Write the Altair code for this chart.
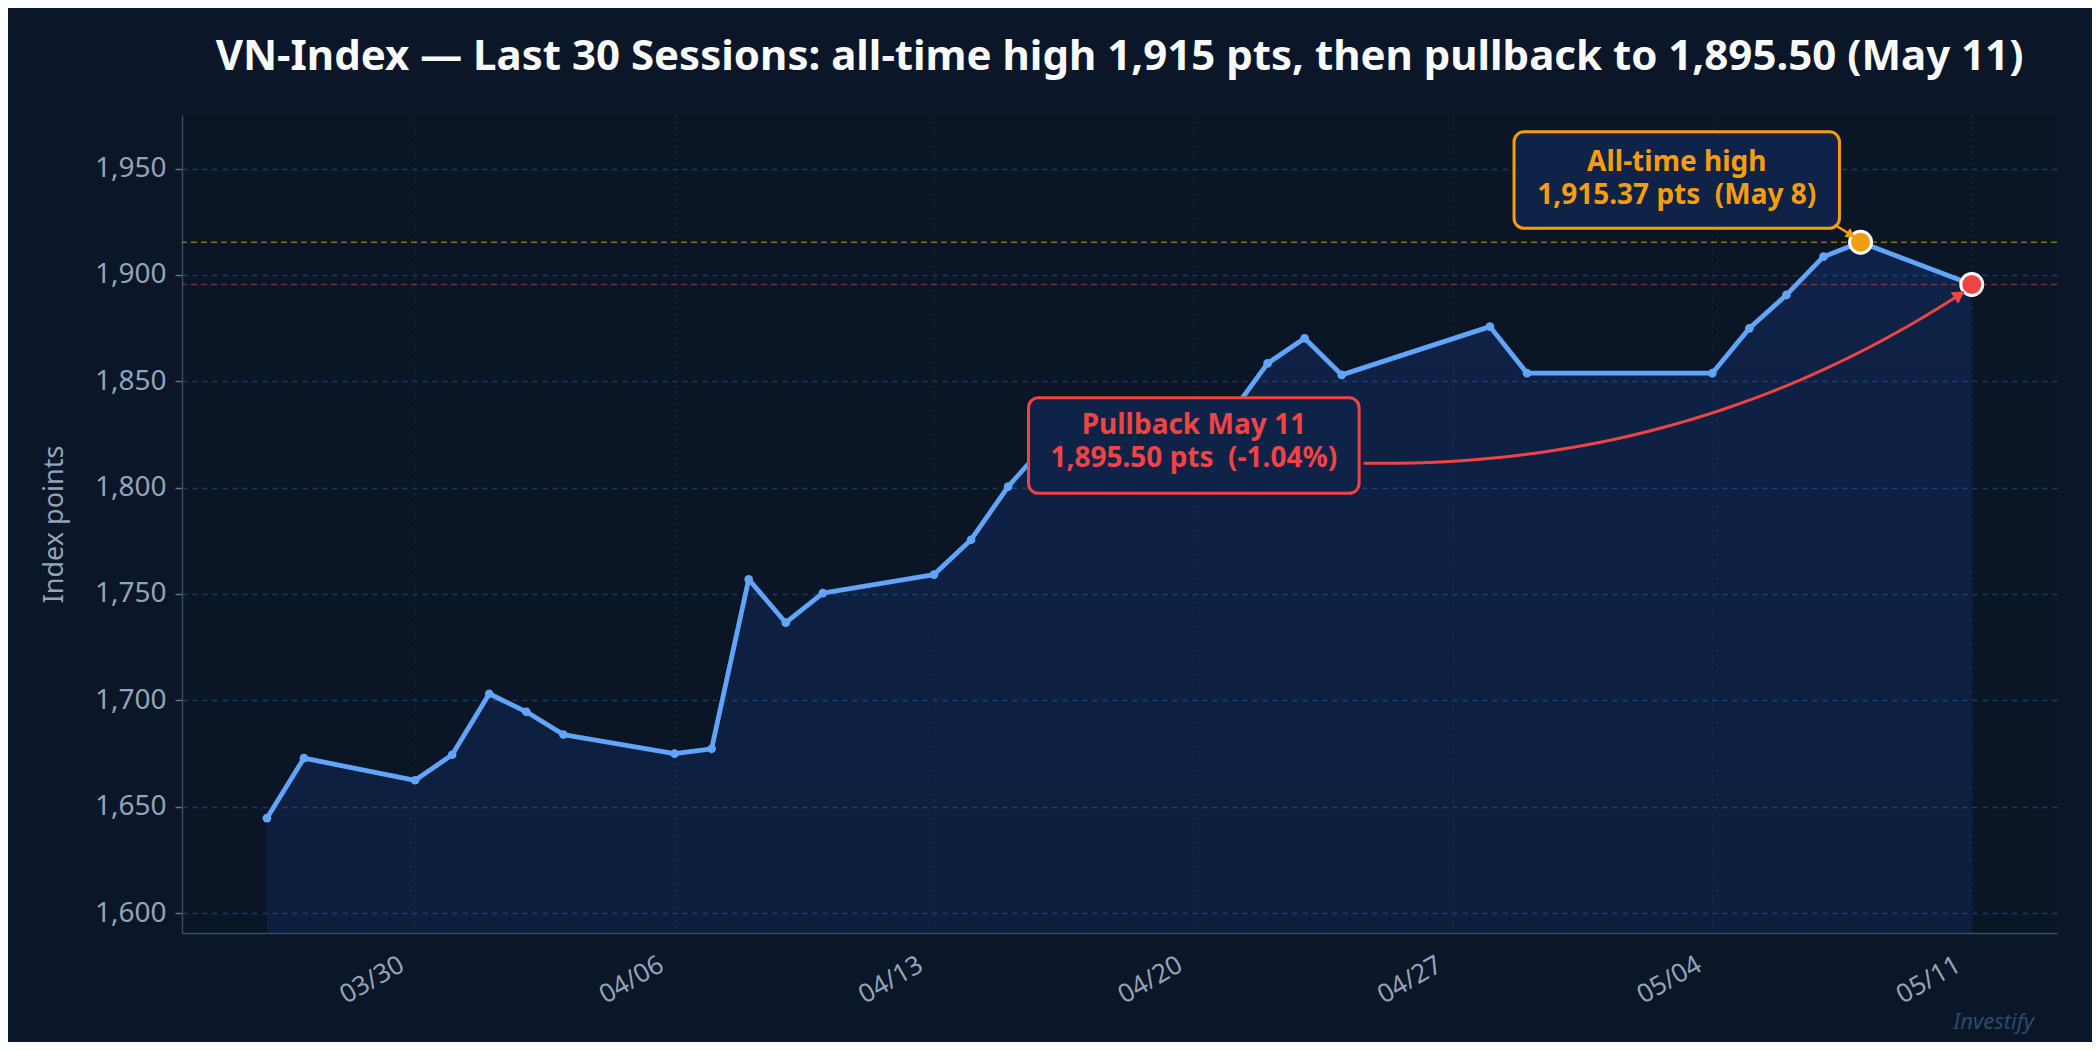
import math

import altair as alt
import pandas as pd

# VN-Index closes, last 30 sessions
dates = [
    "2026-03-26", "2026-03-27", "2026-03-30", "2026-03-31", "2026-04-01",
    "2026-04-02", "2026-04-03", "2026-04-06", "2026-04-07", "2026-04-08",
    "2026-04-09", "2026-04-10", "2026-04-13", "2026-04-14", "2026-04-15",
    "2026-04-16", "2026-04-17", "2026-04-20", "2026-04-21", "2026-04-22",
    "2026-04-23", "2026-04-24", "2026-04-28", "2026-04-29", "2026-05-04",
    "2026-05-05", "2026-05-06", "2026-05-07", "2026-05-08", "2026-05-11",
]
values = [
    1644.6, 1672.8, 1662.4, 1674.4, 1703.1,
    1694.6, 1683.9, 1674.9, 1677.2, 1756.9,
    1736.5, 1750.4, 1759.1, 1775.5, 1800.5,
    1820.0, 1812.0, 1826.0, 1834.5, 1858.4,
    1870.2, 1853.0, 1875.7, 1853.8, 1853.8,
    1874.9, 1890.6, 1908.6, 1915.37, 1895.50,
]
tick_dates = ["2026-03-30", "2026-04-06", "2026-04-13", "2026-04-20",
              "2026-04-27", "2026-05-04", "2026-05-11"]
y_ticks = [1600, 1650, 1700, 1750, 1800, 1850, 1900, 1950]

ath_date, ath_value = "2026-05-08", 1915.37
last_date, last_value = "2026-05-11", 1895.50

BLUE = "#60a5fa"
ORANGE = "#f59e0b"
RED = "#ef4444"
BG = "#0b1628"
BOX_FILL = "#0f2348"
MUTED = "#94a3b8"
FONT = "Noto Sans"

W, H = 1875, 818
Y_MIN, Y_MAX = 1590.6, 1975.2
BASE = pd.Timestamp("2026-03-30", tz="UTC")
X_LO, X_HI = -6.29, 44.3   # days from 03/30


def at(days):
    return (BASE + pd.Timedelta(days=days)).strftime("%Y-%m-%dT%H:%M:%SZ")


def ms(s):
    t = pd.Timestamp(s)
    if t.tzinfo is None:
        t = t.tz_localize("UTC")
    return int(t.timestamp() * 1000)


px_day = W / (X_HI - X_LO)
px_pt = H / (Y_MAX - Y_MIN)

X = alt.X(
    "date:T",
    scale=alt.Scale(type="utc", domain=[ms(at(X_LO)), ms(at(X_HI))]),
    axis=alt.Axis(
        values=[ms(d) for d in tick_dates], format="%m/%d", title=None,
        labelAngle=-30, labelAlign="right", labelBaseline="top",
        labelFontSize=26, labelColor=MUTED, labelPadding=10, labelOffset=-20,
        labelFont=FONT,
        tickColor="#0d1420", tickSize=8, tickWidth=1.5,
        domainColor="#3a4a66", domainWidth=1.5,
        grid=True, gridColor="#17253c", gridDash=[2, 4], gridWidth=1,
    ),
)
Y = alt.Y(
    "value:Q",
    scale=alt.Scale(domain=[Y_MIN, Y_MAX], nice=False, zero=False),
    axis=alt.Axis(
        values=y_ticks, format=",.0f", title="Index points",
        labelFontSize=28, labelColor=MUTED, labelPadding=9, labelFont=FONT,
        tickColor="#64748b", tickSize=7, tickWidth=1.5,
        domainColor="#3a4a66", domainWidth=1.5,
        grid=True, gridColor="#1e3a5f", gridDash=[5, 5], gridWidth=1.3,
        titleFont=FONT, titleFontSize=27, titleFontWeight="normal",
        titleColor=MUTED, titleAngle=270, titleAlign="center",
        titleBaseline="middle", titleX=-128, titleY=H / 2,
    ),
)

df = pd.DataFrame({"date": dates, "value": values})

area = alt.Chart(df).mark_area(
    color=alt.Gradient(
        gradient="linear", x1=0, y1=0, x2=0, y2=1,
        stops=[alt.GradientStop(color="rgba(37,99,235,0.17)", offset=0),
               alt.GradientStop(color="rgba(37,99,235,0.12)", offset=1)],
    )
).encode(x=X, y=Y, y2=alt.datum(Y_MIN))

ref_ath = alt.Chart(pd.DataFrame({"value": [ath_value]})).mark_rule(
    color=ORANGE, opacity=0.6, strokeDash=[6, 4], strokeWidth=1.5
).encode(y=Y)
ref_last = alt.Chart(pd.DataFrame({"value": [last_value]})).mark_rule(
    color=RED, opacity=0.5, strokeDash=[6, 4], strokeWidth=1.5
).encode(y=Y)

line = alt.Chart(df).mark_line(
    color=BLUE, strokeWidth=4.8, strokeCap="round", strokeJoin="round"
).encode(x=X, y=Y)
dots = alt.Chart(df).mark_circle(color=BLUE, size=75, opacity=1).encode(x=X, y=Y)

ath_pt = alt.Chart(pd.DataFrame({"date": [ath_date], "value": [ath_value]})).mark_circle(
    fill=ORANGE, stroke="white", strokeWidth=3, size=480, opacity=1
).encode(x=X, y=Y)
last_pt = alt.Chart(pd.DataFrame({"date": [last_date], "value": [last_value]})).mark_circle(
    fill=RED, stroke="white", strokeWidth=3, size=480, opacity=1
).encode(x=X, y=Y)

# annotation boxes (day offsets from 03/30, index points)
boxes = pd.DataFrame({
    "date": [at(29.65), at(16.55)],
    "date2": [at(38.43), at(25.47)],
    "value": [1967.3, 1842.3],
    "value2": [1921.9, 1797.3],
    "kind": ["ath", "pull"],
})
box_layer = alt.Chart(boxes).mark_rect(
    cornerRadius=10, strokeWidth=3, fill=BOX_FILL, opacity=1
).encode(
    x=X, x2="date2:T", y=Y, y2="value2:Q",
    stroke=alt.Color("kind:N", scale=alt.Scale(domain=["ath", "pull"], range=[ORANGE, RED]),
                     legend=None),
)

labels = pd.DataFrame({
    "date": [at(34.04), at(21.01)],
    "value": [1949.0, 1825.1],
    "text": ["All-time high\n1,915.37 pts\u00a0 (May 8)",
             "Pullback May 11\n1,895.50 pts\u00a0 (-1.04%)"],
    "kind": ["ath", "pull"],
})
label_layer = alt.Chart(labels).mark_text(
    font=FONT, fontSize=28, fontWeight="bold", lineBreak="\n", lineHeight=33,
    align="center", baseline="alphabetic",
).encode(
    x=X, y=Y, text="text:N",
    color=alt.Color("kind:N", scale=alt.Scale(domain=["ath", "pull"], range=[ORANGE, RED]),
                    legend=None),
)

# curved arrow from the pullback box to the last close
p0, p1, p2 = (25.59, 1811.5), (34.51, 1808.9), (41.78, 1892.0)
steps = 40
ts = [k / steps for k in range(steps + 1)]
curve = pd.DataFrame({
    "i": list(range(steps + 1)),
    "date": [at((1 - t) ** 2 * p0[0] + 2 * (1 - t) * t * p1[0] + t ** 2 * p2[0]) for t in ts],
    "value": [(1 - t) ** 2 * p0[1] + 2 * (1 - t) * t * p1[1] + t ** 2 * p2[1] for t in ts],
})
curve_layer = alt.Chart(curve).mark_line(color=RED, strokeWidth=3).encode(
    x=X, y=Y, order="i:Q"
)


def head(tip, tail, color, size):
    dx = (tip[0] - tail[0]) * px_day
    dy = (tip[1] - tail[1]) * px_pt
    ang = math.degrees(math.atan2(dy, dx))
    n = math.hypot(dx, dy)
    back = 5.0
    cx = tip[0] - back * dx / n / px_day
    cy = tip[1] - back * dy / n / px_pt
    return alt.Chart(pd.DataFrame({"date": [at(cx)], "value": [cy]})).mark_point(
        shape="triangle-up", filled=True, color=color, size=size, opacity=1,
        angle=(90 - ang) % 360,
    ).encode(x=X, y=Y)


red_head = head(p2, p1, RED, 190)

a0, a1 = (38.30, 1923.6), (38.86, 1917.6)
ath_arrow = alt.Chart(pd.DataFrame({
    "i": [0, 1], "date": [at(a0[0]), at(a1[0])], "value": [a0[1], a1[1]],
})).mark_line(color=ORANGE, strokeWidth=2.5).encode(x=X, y=Y, order="i:Q")
ath_head = head(a1, a0, ORANGE, 110)

mark_text = alt.Chart(pd.DataFrame({"t": ["Investify"]})).mark_text(
    font=FONT, fontSize=22, fontStyle="italic", color="#33476a",
    align="right", baseline="middle",
).encode(x=alt.value(1852), y=alt.value(907), text="t:N")

chart = alt.layer(
    area, ref_ath, ref_last, line, dots, ath_pt, last_pt,
    box_layer, label_layer, curve_layer, red_head, ath_arrow, ath_head, mark_text,
).properties(
    width=W, height=H,
    autosize=alt.AutoSizeParams(type="none"),
    padding={"left": 174, "top": 107, "right": 35, "bottom": 109},
    title=alt.TitleParams(
        text="VN-Index \u2014 Last 30 Sessions: all-time high 1,915 pts, then pullback to 1,895.50 (May 11)",
        font=FONT, fontSize=42, fontWeight="bold", color="#f8fafc",
        anchor="middle", frame="group", baseline="alphabetic", offset=3,
    ),
).resolve_scale(color="independent").configure(
    background=BG, font=FONT
).configure_view(fill="#0a1526", strokeWidth=0)

chart.save("out.html", embed_options={"renderer": "svg", "actions": False})
